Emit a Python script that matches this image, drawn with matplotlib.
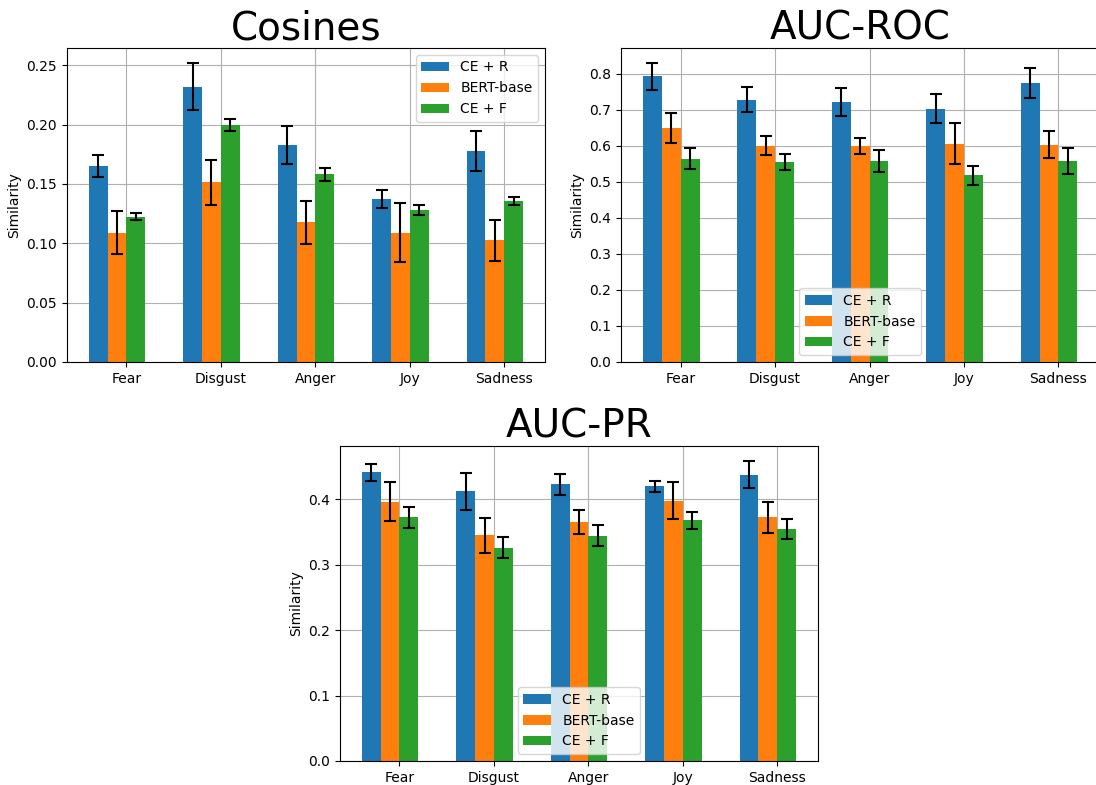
import matplotlib
matplotlib.use('Agg')
import matplotlib.pyplot as plt
import numpy as np

emotions = ['Fear', 'Disgust', 'Anger', 'Joy', 'Sadness']
models = ['CE + R', 'BERT-base', 'CE + F']
colors = ['#1f77b4', '#ff7f0e', '#2ca02c']

# Cosines
cos_ce_r = [0.165, 0.232, 0.183, 0.137, 0.1775]
cos_ce_r_err = [0.009, 0.020, 0.016, 0.0076, 0.017]
cos_bert = [0.109, 0.1515, 0.1177, 0.109, 0.1025]
cos_bert_err = [0.018, 0.019, 0.018, 0.025, 0.0175]
cos_ce_f = [0.1225, 0.200, 0.158, 0.128, 0.136]
cos_ce_f_err = [0.003, 0.005, 0.0057, 0.0042, 0.0034]

# AUC-ROC
roc_ce_r = [0.7935, 0.7287, 0.7213, 0.7028, 0.775]
roc_ce_r_err = [0.037, 0.035, 0.039, 0.040, 0.042]
roc_bert = [0.649, 0.601, 0.599, 0.6065, 0.6037]
roc_bert_err = [0.042, 0.026, 0.022, 0.058, 0.037]
roc_ce_f = [0.564, 0.5556, 0.5583, 0.5185, 0.5583]
roc_ce_f_err = [0.029, 0.023, 0.031, 0.026, 0.036]

# AUC-PR
pr_ce_r = [0.4419, 0.4123, 0.4235, 0.4199, 0.4378]
pr_ce_r_err = [0.013, 0.028, 0.016, 0.008, 0.021]
pr_bert = [0.3964, 0.3453, 0.3653, 0.398, 0.3724]
pr_bert_err = [0.030, 0.027, 0.018, 0.028, 0.024]
pr_ce_f = [0.3724, 0.3264, 0.3443, 0.3683, 0.3545]
pr_ce_f_err = [0.016, 0.016, 0.016, 0.013, 0.015]

fig = plt.figure(figsize=(10.96, 7.85), dpi=100)
ax1 = fig.add_axes([0.0611, 0.5389, 0.4361, 0.4])
ax2 = fig.add_axes([0.5667, 0.5389, 0.4361, 0.4])
ax3 = fig.add_axes([0.3102, 0.0306, 0.4361, 0.4013])

x = np.arange(len(emotions))
w = 0.2


def draw(ax, title, vals, errs, loc):
    for i in range(3):
        ax.bar(x + (i - 2) * w, vals[i], w, align='edge', yerr=errs[i],
               capsize=4, color=colors[i], ecolor='black', label=models[i],
               error_kw=dict(elinewidth=1.5, capthick=1.5))
    ax.set_xticks(x)
    ax.set_xticklabels(emotions)
    ax.set_ylabel('Similarity')
    ax.set_title(title, fontsize=28)
    ax.set_axisbelow(True)
    ax.grid(True)
    ax.legend(loc=loc)


draw(ax1, 'Cosines', [cos_ce_r, cos_bert, cos_ce_f],
     [cos_ce_r_err, cos_bert_err, cos_ce_f_err], 'upper right')
draw(ax2, 'AUC-ROC', [roc_ce_r, roc_bert, roc_ce_f],
     [roc_ce_r_err, roc_bert_err, roc_ce_f_err], 'lower center')
draw(ax3, 'AUC-PR', [pr_ce_r, pr_bert, pr_ce_f],
     [pr_ce_r_err, pr_bert_err, pr_ce_f_err], 'lower center')

fig.savefig('out.png', dpi=100)
